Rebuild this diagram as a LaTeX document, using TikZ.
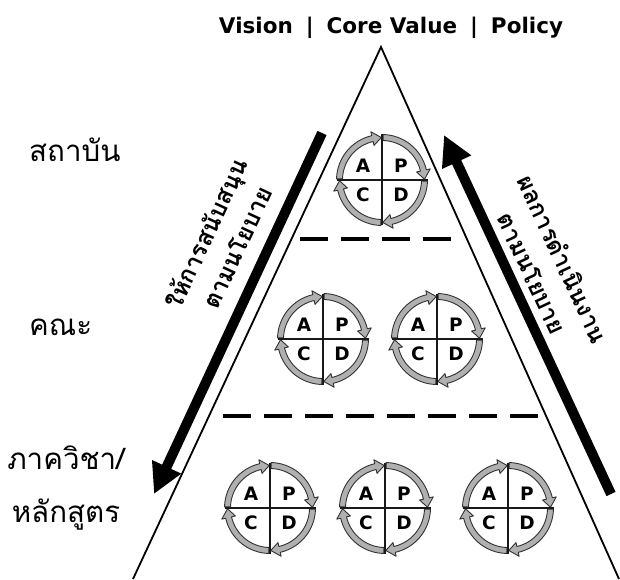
\documentclass[tikz,border=0pt]{standalone}
\usepackage{fontspec}
\usetikzlibrary{arrows.meta}
\newfontfamily\thaifont[Script=Thai]{Loma}
\newfontfamily\dvsfont{DejaVu Sans}
\definecolor{ringfill}{RGB}{176,176,176}
\definecolor{ringline}{RGB}{50,50,50}
\definecolor{crossline}{RGB}{25,25,25}
\tikzset{
  quarterarrow/.style={fill=ringfill, draw=ringline, line width=0.9pt, line join=round},
  crossstroke/.style={draw=crossline, line width=1.4pt},
  pdcaletter/.style={font=\dvsfont\bfseries\fontsize{18.5}{18.5}\selectfont, inner sep=0pt},
  pdca/.pic={
    \foreach \s in {90,0,-90,-180}{
      \pgfmathsetmacro\aS{\s-1.5}
      \pgfmathsetmacro\aB{\s-90+13}
      \pgfmathsetmacro\aT{\s-90+1}
      \path[quarterarrow] (\aS:45.5) arc[start angle=\aS, end angle=\aB, radius=45.5]
        -- (\aB:49.5) -- (\aT:42.5) -- (\aB:35.5) -- (\aB:39.5)
        arc[start angle=\aB, end angle=\aS, radius=39.5] -- cycle;
    }
    \draw[crossstroke] (0,45.5) -- (0,-45.5);
    \draw[crossstroke] (-45.5,0) -- (45.5,0);
    \node[pdcaletter] (-a) at (-19,14.5) {A};
    \node[pdcaletter] (-p) at (19,14.5) {P};
    \node[pdcaletter] (-c) at (-19,-14.5) {C};
    \node[pdcaletter] (-d) at (19,-14.5) {D};
  },
  pyramidline/.style={draw=black, line width=1.8pt},
  dashline/.style={draw=black, line width=4pt, dash pattern=on 28pt off 13pt},
  bigarrow/.style={draw=black, line width=10pt, -{Triangle[length=30pt,width=30pt]}},
  titletext/.style={font=\dvsfont\bfseries\fontsize{21.5}{25}\selectfont, inner sep=0pt},
  levellabel/.style={font=\thaifont\fontsize{29.5}{53}\selectfont, inner sep=0pt, align=center},
  flowtext/.style={font=\thaifont\bfseries\fontsize{24}{34}\selectfont, inner sep=0pt, align=center},
}
\begin{document}
\begin{tikzpicture}[x=1pt, y=1pt]
  \fill[white] (0,0) rectangle (620,579);
  \useasboundingbox (0,0) rectangle (620,579);

  % pyramid
  \coordinate (leftfoot) at (133,0);
  \coordinate (apex) at (381,532);
  \coordinate (rightfoot) at (619,0);
  \draw[pyramidline] (leftfoot) -- (apex) -- (rightfoot);

  % dashed separators
  \coordinate (d1l) at (300,340);
  \coordinate (d1r) at (452,340);
  \coordinate (d2l) at (223,163);
  \coordinate (d2r) at (540,163);
  \draw[dashline] (d1l) -- (d1r);
  \draw[dashline] (d2l) -- (d2r);

  % PDCA cycles
  \pic (top) at (382,399) {pdca};
  \pic (midl) at (323,240) {pdca};
  \pic (midr) at (437,240) {pdca};
  \pic (botl) at (270,71) {pdca};
  \pic (botm) at (385,71) {pdca};
  \pic (botr) at (508,71) {pdca};

  % title
  \node[titletext] (title) at (391,551) {Vision\hspace{13pt}|\hspace{13pt}Core Value\hspace{13pt}|\hspace{13pt}Policy};

  % level labels
  \node[levellabel, anchor=west] (inst) at (29,429) {สถาบัน};
  \node[levellabel, anchor=west] (fac) at (29,252) {คณะ};
  \node[levellabel] (dept) at (66,91) {ภาควิชา/\\หลักสูตร};

  % big arrows
  \coordinate (ltail) at (322,446);
  \coordinate (ltip) at (154,85);
  \draw[bigarrow] (ltail) -- (ltip);
  \coordinate (rtail) at (611,85);
  \coordinate (rtip) at (444,444);
  \draw[bigarrow] (rtail) -- (rtip);

  % arrow texts
  \node[flowtext, rotate=65] (support) at (221,339) {ให้การสนับสนุน\\ตามนโยบาย};
  \node[flowtext, rotate=-65] (result) at (548,313) {ผลการดำเนินงาน\\ตามนโยบาย};
\end{tikzpicture}
\end{document}
